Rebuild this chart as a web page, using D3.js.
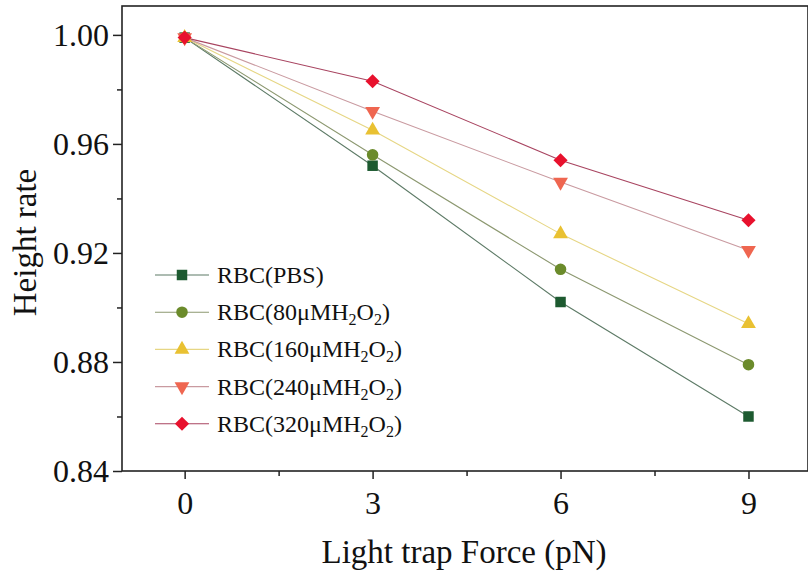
<!DOCTYPE html>
<html>
<head>
<meta charset="utf-8">
<script src="https://cdn.jsdelivr.net/npm/d3@7"></script>
<style>
  html, body { margin: 0; padding: 0; background: #fff; }
  svg { display: block; }
  text { font-family: "Liberation Serif", "Times New Roman", serif; fill: #111; }
</style>
</head>
<body>
<svg id="chart" width="808" height="575"></svg>
<script>
// Light trap force (pN) applied to each sample
const forces = [0, 3, 6, 9];

// Relative height of red blood cells under each treatment
const pbs    = [0.999, 0.952, 0.902, 0.860];
const h2o80  = [0.999, 0.956, 0.914, 0.879];
const h2o160 = [0.999, 0.965, 0.927, 0.894];
const h2o240 = [0.999, 0.972, 0.946, 0.921];
const h2o320 = [0.999, 0.983, 0.954, 0.932];

const xTicks = [0, 3, 6, 9];
const xMinorTicks = [1.5, 4.5, 7.5];
const yTicks = [0.84, 0.88, 0.92, 0.96, 1.00];
const yMinorTicks = [0.86, 0.90, 0.94, 0.98];

const series = [
  { label: "RBC(PBS)",   sub: false, values: pbs,    shape: "square",   fill: "#1d5a30", line: "#5d7a66", size: 110 },
  { label: "RBC(80μMH",  sub: true,  values: h2o80,  shape: "circle",   fill: "#6b8b2b", line: "#8c9870", size: 105 },
  { label: "RBC(160μMH", sub: true,  values: h2o160, shape: "triangle", fill: "#e9c132", line: "#e6d684", size: 95 },
  { label: "RBC(240μMH", sub: true,  values: h2o240, shape: "triDown",  fill: "#ef6650", line: "#c99aa0", size: 95 },
  { label: "RBC(320μMH", sub: true,  values: h2o320, shape: "diamond",  fill: "#e8112d", line: "#a84460", size: 100 }
];

const svg = d3.select("#chart");
const mLeft = 122, mRight = 808, mTop = 6, mBottom = 471;

const x = d3.scaleLinear().domain([-1, 9.95]).range([mLeft, mRight]);
const y = d3.scaleLinear().domain([0.84, 1.0106]).range([mBottom, mTop]);

// Custom marker shapes: downward triangle and diamond
const triDown = {
  draw(ctx, size) {
    const s = Math.sqrt(size / (Math.sqrt(3) / 4));
    const h = s * Math.sqrt(3) / 2;
    ctx.moveTo(-s / 2, -h / 3);
    ctx.lineTo(s / 2, -h / 3);
    ctx.lineTo(0, 2 * h / 3);
    ctx.closePath();
  }
};
const diamond = {
  draw(ctx, size) {
    const r = Math.sqrt(size / 2);
    ctx.moveTo(0, -r);
    ctx.lineTo(r, 0);
    ctx.lineTo(0, r);
    ctx.lineTo(-r, 0);
    ctx.closePath();
  }
};
const shapes = {
  square: d3.symbolSquare,
  circle: d3.symbolCircle,
  triangle: d3.symbolTriangle,
  triDown: triDown,
  diamond: diamond
};
function symbolPath(s) {
  return d3.symbol().type(shapes[s.shape]).size(s.size)();
}

// Frame
svg.append("rect")
  .attr("x", mLeft).attr("y", mTop)
  .attr("width", mRight - mLeft).attr("height", mBottom - mTop)
  .attr("fill", "none").attr("stroke", "#222").attr("stroke-width", 1.6);

// Y axis
const yAxis = svg.append("g").attr("transform", `translate(${mLeft},0)`)
  .call(d3.axisLeft(y).tickValues(yTicks).tickFormat(d3.format(".2f")).tickSize(9).tickPadding(4));
yAxis.select(".domain").remove();
yAxis.selectAll("line").attr("stroke", "#222").attr("stroke-width", 1.5);
yAxis.selectAll("text").attr("font-size", 32).attr("font-family", "Liberation Serif").attr("fill", "#111");
const yMinor = svg.append("g").attr("transform", `translate(${mLeft},0)`)
  .call(d3.axisLeft(y).tickValues(yMinorTicks).tickFormat("").tickSize(5));
yMinor.select(".domain").remove();
yMinor.selectAll("line").attr("stroke", "#222").attr("stroke-width", 1.5);

// X axis
const xAxis = svg.append("g").attr("transform", `translate(0,${mBottom})`)
  .call(d3.axisBottom(x).tickValues(xTicks).tickFormat(d3.format("d")).tickSize(8).tickPadding(12));
xAxis.select(".domain").remove();
xAxis.selectAll("line").attr("stroke", "#222").attr("stroke-width", 1.5);
xAxis.selectAll("text").attr("font-size", 32).attr("font-family", "Liberation Serif").attr("fill", "#111");
const xMinor = svg.append("g").attr("transform", `translate(0,${mBottom})`)
  .call(d3.axisBottom(x).tickValues(xMinorTicks).tickFormat("").tickSize(5));
xMinor.select(".domain").remove();
xMinor.selectAll("line").attr("stroke", "#222").attr("stroke-width", 1.5);

// Axis titles
svg.append("text")
  .attr("x", (mLeft + mRight) / 2 - 1).attr("y", 563)
  .attr("text-anchor", "middle").attr("font-size", 33)
  .text("Light trap Force (pN)");
svg.append("text")
  .attr("transform", `translate(36,${(mTop + mBottom) / 2 + 4}) rotate(-90)`)
  .attr("text-anchor", "middle").attr("font-size", 33)
  .text("Height rate");

// Series lines and markers
const line = d3.line().x((d, i) => x(forces[i])).y(d => y(d));
series.forEach(s => {
  svg.append("path")
    .datum(s.values)
    .attr("d", line)
    .attr("fill", "none")
    .attr("stroke", s.line)
    .attr("stroke-width", 1.1);
});
series.forEach(s => {
  svg.append("g").selectAll("path")
    .data(s.values)
    .join("path")
    .attr("transform", (d, i) => `translate(${x(forces[i])},${y(d)})`)
    .attr("d", symbolPath(s))
    .attr("fill", s.fill);
});

// Legend
const legend = svg.append("g");
series.forEach((s, i) => {
  const ly = 275 + i * 37.2;
  const row = legend.append("g").attr("transform", `translate(0,${ly})`);
  row.append("line")
    .attr("x1", 155).attr("x2", 209).attr("y1", 0).attr("y2", 0)
    .attr("stroke", s.line).attr("stroke-width", 1.1);
  row.append("path")
    .attr("transform", "translate(182,0)")
    .attr("d", symbolPath(s))
    .attr("fill", s.fill);
  const t = row.append("text")
    .attr("x", 217).attr("y", 8)
    .attr("font-size", 24);
  t.append("tspan").text(s.label);
  if (s.sub) {
    t.append("tspan").attr("font-size", 16).attr("dy", 5).text("2");
    t.append("tspan").attr("dy", -5).text("O");
    t.append("tspan").attr("font-size", 16).attr("dy", 5).text("2");
    t.append("tspan").attr("dy", -5).text(")");
  }
});
</script>
</body>
</html>
